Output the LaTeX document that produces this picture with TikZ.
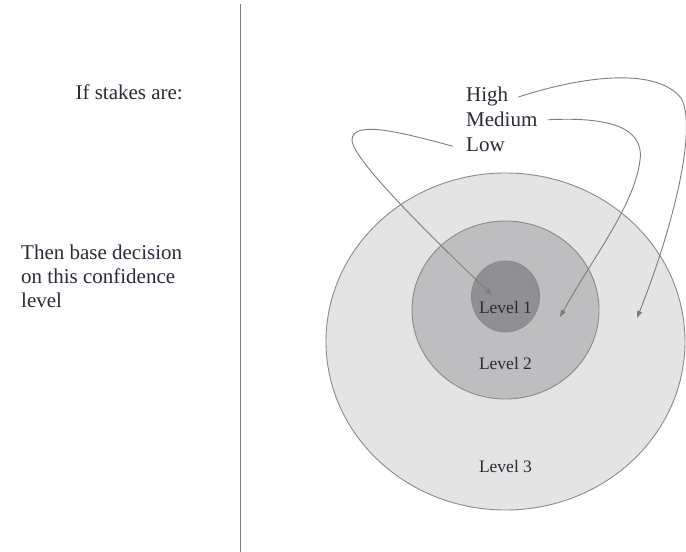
\documentclass[tikz,border=0pt]{standalone}
\usepackage{fontspec}
\setmainfont{Liberation Serif}
\usetikzlibrary{arrows.meta}
\definecolor{inkgray}{HTML}{7C7C7C}
\definecolor{ringline}{HTML}{8A8A8A}
\definecolor{outerfill}{HTML}{E4E4E4}
\definecolor{middlefill}{HTML}{BEBEC0}
\definecolor{innerfill}{HTML}{909094}
\definecolor{textcol}{HTML}{2A2A38}
\begin{document}
\begin{tikzpicture}[x=1pt,y=-1pt,
  ring/.style={draw=ringline,line width=0.9pt},
  pointer/.style={draw=inkgray,line width=0.9pt,-{Triangle[length=7pt,width=5pt]}},
  maintext/.style={font=\fontsize{21}{24}\selectfont,text=textcol,inner sep=0pt},
  stakes/.style={font=\fontsize{21}{25}\selectfont,text=textcol,inner sep=0pt,anchor=base west},
  levellabel/.style={font=\fontsize{17.5}{20}\selectfont,text=textcol,inner sep=0pt,anchor=base}]
\useasboundingbox (0,0) rectangle (686,552);

% divider between the captions and the diagram
\coordinate (divtop) at (240.7,4);
\coordinate (divbot) at (240.7,552);
\draw[draw=inkgray,line width=1.2pt] (divtop) -- (divbot);

% captions (a multi-line node's base is its last line)
\node[maintext,anchor=base east] (ifstakes) at (183,99) {If stakes are:};
\node[maintext,anchor=base west,align=left] (thenbase) at (21,307)
  {Then base decision\\on this confidence\\level};

% nested confidence rings
\fill[outerfill] (505.5,341.5) ellipse [x radius=179.5,y radius=168.5];
\draw[ring] (505.5,341.5) ellipse [x radius=179.5,y radius=168.5];
\fill[middlefill] (505.5,310) ellipse [x radius=93.5,y radius=89];
\draw[ring] (505.5,310) ellipse [x radius=93.5,y radius=89];
\fill[innerfill] (505.5,296.5) ellipse [x radius=34,y radius=35.5];
\draw[ring] (505.5,296.5) ellipse [x radius=34,y radius=35.5];

\node[levellabel] (lev1) at (505.5,313) {Level 1};
\node[levellabel] (lev2) at (505.5,369) {Level 2};
\node[levellabel] (lev3) at (505.5,472) {Level 3};

% stake levels
\node[stakes] (high) at (466,101) {High};
\node[stakes] (medium) at (466,126) {Medium};
\node[stakes] (low) at (466,151) {Low};

% arrow end points inside the rings
\coordinate (tipthree) at (637,318);
\coordinate (tiptwo) at (560,317);
\coordinate (tipone) at (492,295);

% connectors from each stake level to its ring
\draw[pointer] ([xshift=10pt,yshift=-1pt]high.east)
  .. controls (580,77) and (655,66) .. (681,98)
  .. controls (697,125) and (676,220) .. (tipthree);
\draw[pointer] ([xshift=10pt,yshift=-1pt]medium.east)
  .. controls (600,117) and (645,124) .. (640,160)
  .. controls (635,205) and (590,262) .. (tiptwo);
\draw[pointer] ([xshift=-13pt,yshift=-2pt]low.west)
  .. controls (410,135) and (352,118) .. (352,140)
  .. controls (352,160) and (440,245) .. (tipone);
\end{tikzpicture}
\end{document}
